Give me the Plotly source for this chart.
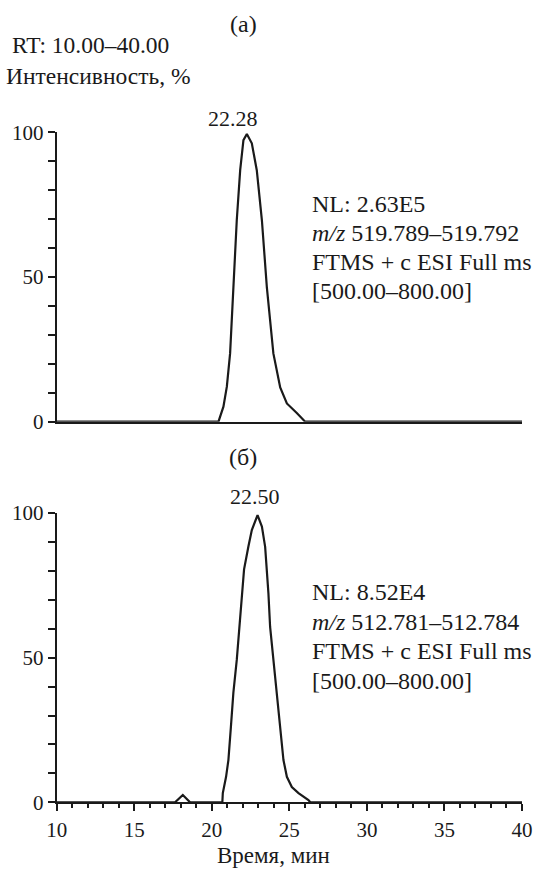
import plotly.graph_objects as go

# ---- data ----
time_a = [10.0, 20.43, 20.75, 20.97, 21.18, 21.39, 21.61, 21.83, 22.04, 22.26,
          22.58, 22.90, 23.23, 23.55, 23.97, 24.41, 24.84, 25.48, 26.02, 40.0]
inten_a = [0.0, 0.0, 5.2, 12.1, 23.6, 46.6, 69.6, 86.9, 97.3, 99.4,
           96.2, 86.9, 69.6, 46.4, 23.6, 11.8, 6.3, 3.0, 0.0, 0.0]

time_b = [10.0, 17.63, 18.13, 18.6, 20.68, 20.71, 20.92, 21.07, 21.23, 21.39,
          21.61, 21.78, 21.94, 22.08, 22.36, 22.58, 22.95, 23.23, 23.44, 23.57,
          23.65, 23.76, 23.97, 24.19, 24.41, 24.62, 24.84, 25.16, 25.59, 26.23,
          26.35, 40.0]
inten_b = [0.0, 0.0, 2.5, 0.0, 0.0, 3.2, 8.8, 14.6, 26.0, 37.8,
           49.2, 60.6, 72.3, 80.5, 88.4, 94.1, 99.3, 95.3, 88.3, 80.0,
           72.3, 60.6, 49.2, 37.8, 26.0, 14.6, 8.8, 5.3, 3.2, 0.8,
           0.0, 0.0]

x_major = [10, 15, 20, 25, 30, 35, 40]
y_labels = [0, 50, 100]

peak_a = "22.28"
peak_b = "22.50"
info_a = ["NL: 2.63E5", "<i>m/z</i> 519.789–519.792", "FTMS + c ESI Full ms", "[500.00–800.00]"]
info_b = ["NL: 8.52E4", "<i>m/z</i> 512.781–512.784", "FTMS + c ESI Full ms", "[500.00–800.00]"]

W, H = 553, 872
FONT = "Liberation Serif, Times New Roman, serif"
TXT = 24
TICK = 21
INK = "#1a1a1a"


def px(x):
    return x / W


def py(y):
    return 1 - y / H


fig = go.Figure()
fig.add_trace(go.Scatter(x=time_a, y=inten_a, mode="lines",
                         line=dict(color=INK, width=2.2), xaxis="x", yaxis="y",
                         showlegend=False))
fig.add_trace(go.Scatter(x=time_b, y=inten_b, mode="lines",
                         line=dict(color=INK, width=2.2), xaxis="x2", yaxis="y2",
                         showlegend=False))

xdom = [px(56.7), px(522)]
ydom_a = [py(421.7), py(132.3)]
ydom_b = [py(802.3), py(513)]

yaxis_common = dict(range=[0, 100], tickvals=y_labels, ticks="outside", ticklen=7,
                    tickwidth=2, tickcolor=INK, showline=True, linewidth=2,
                    linecolor=INK, showgrid=False, zeroline=False, automargin=False,
                    minor=dict(dtick=10, ticks="outside", ticklen=7, tickwidth=2,
                               tickcolor=INK, showgrid=False),
                    tickfont=dict(family=FONT, size=TICK, color=INK), fixedrange=True)

fig.update_layout(
    width=W, height=H,
    margin=dict(l=0, r=0, t=0, b=0, autoexpand=False),
    paper_bgcolor="white", plot_bgcolor="white",
    font=dict(family=FONT, size=TICK, color=INK),
    xaxis=dict(domain=xdom, range=[10, 40], anchor="y", showline=True, linewidth=2,
               linecolor=INK, showticklabels=False, ticks="", showgrid=False,
               zeroline=False, automargin=False),
    yaxis=dict(domain=ydom_a, anchor="x", **yaxis_common),
    xaxis2=dict(domain=xdom, range=[10, 40], anchor="y2", showline=True, linewidth=2,
                linecolor=INK, tickvals=x_major, ticks="outside", ticklen=7,
                tickwidth=2, tickcolor=INK, showgrid=False, zeroline=False,
                automargin=False,
                minor=dict(dtick=1, ticks="outside", ticklen=4, tickwidth=2,
                           tickcolor=INK, showgrid=False),
                tickfont=dict(family=FONT, size=TICK, color=INK)),
    yaxis2=dict(domain=ydom_b, anchor="x2", **yaxis_common),
)


def txt(x, y, s, xanchor="center", size=TXT):
    fig.add_annotation(x=px(x), y=py(y), xref="paper", yref="paper", text=s,
                       showarrow=False, xanchor=xanchor, yanchor="middle",
                       font=dict(family=FONT, size=size, color=INK))


txt(243, 24, "(a)")
txt(10, 45, "RT: 10.00–40.00", xanchor="left", size=23.5)
txt(4, 76, "Интенсивность, %", xanchor="left", size=23.5)
txt(233, 119, peak_a, size=22)
for i, s in enumerate(info_a):
    txt(310, 204 + 29 * i, s, xanchor="left")

txt(243, 457, "(б)")
txt(255, 496, peak_b, size=22)
for i, s in enumerate(info_b):
    txt(310, 592 + 29.5 * i, s, xanchor="left")

txt(273, 855, "Время, мин", size=23)

fig.write_html(
    "out.html",
    config={"displayModeBar": False},
    post_script="document.body.style.margin='0';document.body.style.padding='0';"
                "document.body.style.overflow='hidden';",
)
